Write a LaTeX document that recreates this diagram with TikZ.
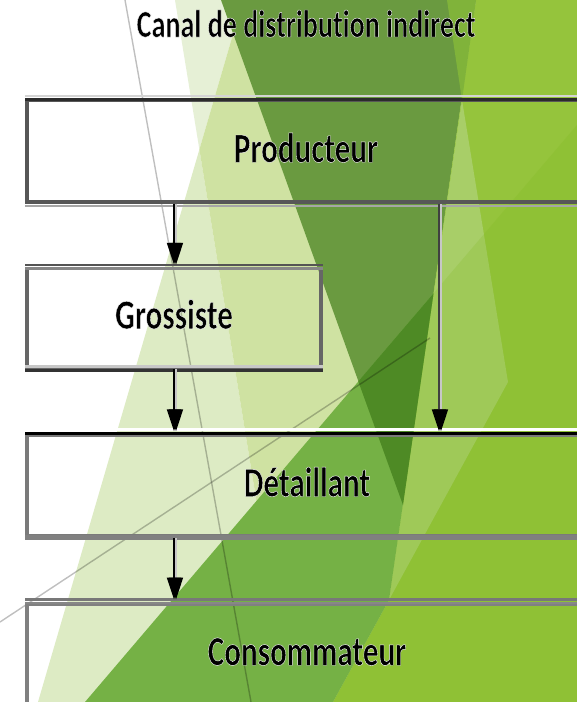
\documentclass[tikz,border=0pt]{standalone}
\usepackage{fontspec}
\setmainfont{Carlito}[Ligatures=NoCommon]
\usepackage{graphicx}
\usetikzlibrary{arrows.meta}

% facet background colours
\definecolor{paleB}{HTML}{E6F0D6}
\definecolor{paleA}{HTML}{DDEBC4}
\definecolor{paleAB}{HTML}{CFE2A2}
\definecolor{olive}{HTML}{6A9A40}
\definecolor{deepgreen}{HTML}{4E8A25}
\definecolor{midgreen}{HTML}{75B145}
\definecolor{lime}{HTML}{95C43C}
\definecolor{limelight}{HTML}{A8CE68}
\definecolor{limesliver}{HTML}{80B33A}
\definecolor{limeshadow}{HTML}{7BB51A}

% bold text whose glyphs get a thin white rim, squeezed horizontally
\newcommand\rimmed[2]{%
  \special{pdf:literal direct 2 Tr 1 1 1 RG 0.45 w}%
  \scalebox{#1}[1]{#2}%
  \special{pdf:literal direct 0 Tr}}

\tikzset{
  stagebox/.style={draw=#1, line width=3.5pt, inner sep=0pt,
    text height=22pt, text depth=0pt,
    font=\bfseries\fontsize{42}{42}\selectfont},
  rim/.style={draw=#1, line width=3pt},
  thinline/.style={draw=black, opacity=0.25, line width=1.4pt},
  flow/.style={draw=black, line width=2.2pt,
    -{Triangle[length=22pt,width=14pt,color=black]}, shorten >=2pt,
    preaction={draw=white!78!black, line width=1.6pt,
      transform canvas={xshift=2pt}}},
}

\begin{document}
\begin{tikzpicture}[x=1pt,y=-1pt]
\useasboundingbox (0,0) rectangle (577,702);
\clip (0,0) rectangle (577,702);

% background facets
\fill[white] (0,0) rectangle (577,702);
\fill[paleB] (175,0) -- (243,0) -- (199.4,149.5) -- cycle;
\fill[paleA] (199.4,149.5) -- (38,702) -- (289,702) -- cycle;
\fill[paleAB] (243,0) -- (577,0) -- (577,702) -- (289,702) -- (199.4,149.5) -- cycle;
\fill[olive] (221,0) -- (476,0) -- (403,505) -- cycle;
\fill[lime] (476,0) -- (577,0) -- (577,702) -- (333,702) -- (389,600) -- cycle;
\fill[limesliver] (447,0) -- (476,0) -- (462,100) -- cycle;
\fill[limelight] (462,100) -- (508,382) -- (389,600) -- cycle;
\fill[midgreen] (433.5,293.4) -- (85,702) -- (333,702) -- (389,600) -- cycle;
\fill[deepgreen] (433.5,293.4) -- (358.3,381.4) -- (403,505) -- cycle;
\fill[limeshadow, opacity=0.2] (577,125) -- (433.5,293.4) -- (389,600) -- (333,702) -- (577,702) -- cycle;
\draw[thinline] (125,0) -- (251,702);
\draw[thinline] (0,622) -- (430,338);

% title
\node[anchor=base, font=\bfseries\fontsize{38.5}{40}\selectfont] (title) at (306,37)
  {\rimmed{0.73}{Canal de distribution indirect}};

% stages
\node[stagebox=black!66, minimum width=558pt, minimum height=101.5pt] (prod) at (306,151.25)
  {\rimmed{0.74}{Producteur}};
\node[stagebox=black!60, minimum width=294pt, minimum height=98.5pt] (gross) at (174,317.75)
  {\rimmed{0.74}{Grossiste}};
\node[stagebox=black!52, minimum width=560pt, minimum height=101pt] (det) at (307,485.5)
  {\rimmed{0.74}{Détaillant}};
\node[stagebox=black!50, line width=4pt, minimum width=560pt, minimum height=101.5pt] (cons) at (307,654.25)
  {\rimmed{0.74}{Consommateur}};

% bevelled rims of the box edges
\draw[rim=black!17, line width=2.5pt] ([yshift=3pt]prod.north west) -- ([yshift=3pt]prod.north east);
\draw[rim=black!83] ([yshift=-0.5pt]prod.north west) -- ([yshift=-0.5pt]prod.north east);
\draw[rim=black!35, line width=2.5pt] ([yshift=-2pt]prod.south west) -- ([yshift=-2pt]prod.south east);
\draw[rim=black!67, line width=2.5pt] ([yshift=2pt]gross.north west) -- ([yshift=2pt]gross.north east);
\draw[rim=black!47] ([yshift=-1.5pt]gross.north west) -- ([yshift=-1.5pt]gross.north east);
\draw[rim=black!22] ([yshift=2pt]gross.south west) -- ([yshift=2pt]gross.south east);
\draw[rim=black!80] ([yshift=-2pt]gross.south west) -- ([yshift=-2pt]gross.south east);
\draw[rim=white] ([yshift=3.5pt]det.north west) -- ([yshift=3.5pt]det.north east);
\draw[rim=black, line width=3.5pt] (det.north west) -- (det.north east);
\draw[rim=black!50, line width=5pt] (det.south west) -- (det.south east);
\draw[rim=black!53, line width=2.5pt] ([yshift=2pt]cons.north west) -- ([yshift=2pt]cons.north east);
\draw[rim=black!47, line width=2.5pt] ([yshift=-1.5pt]cons.north west) -- ([yshift=-1.5pt]cons.north east);

% flows between the stages
\draw[flow] (gross.north |- prod.south) -- (gross.north);
\draw[flow] (gross.south) -- (gross.south |- det.north);
\draw[flow, draw=black!75] ([xshift=133pt]prod.south) -- ([xshift=132pt]det.north);
\draw[flow] (gross.south |- det.south) -- (gross.south |- cons.north);
\end{tikzpicture}
\end{document}
